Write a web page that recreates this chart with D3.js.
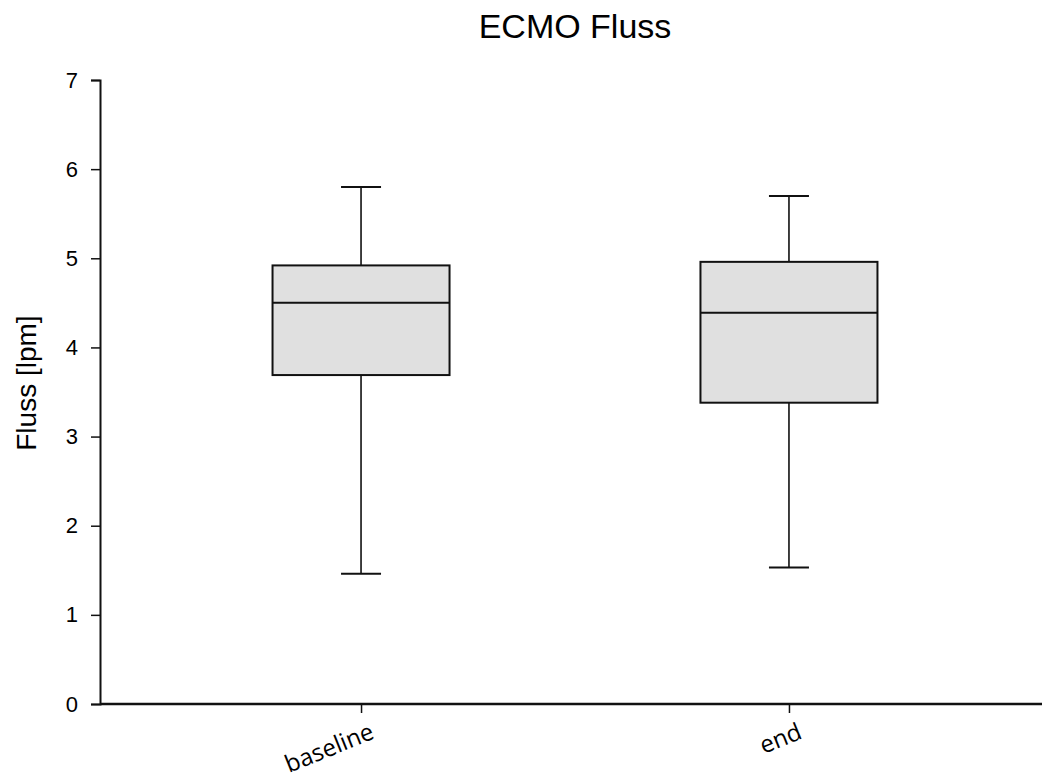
<!DOCTYPE html>
<html>
<head>
<meta charset="utf-8">
<script src="https://cdn.jsdelivr.net/npm/d3@7"></script>
<style>
  body { margin: 0; background: #fff; }
  svg { display: block; }
</style>
</head>
<body>
<svg id="chart"></svg>
<script>
// categories and box statistics
const groups = ['baseline', 'end']
const whiskerLow = [1.46, 1.53]
const q1 = [3.69, 3.38]
const median = [4.50, 4.39]
const q3 = [4.92, 4.96]
const whiskerHigh = [5.80, 5.70]
const yTicks = [0, 1, 2, 3, 4, 5, 6, 7]

const width = 1042, height = 780
const margin = { top: 80, right: 0, bottom: 76, left: 100 }

const data = groups.map((g, i) => ({
  group: g, lo: whiskerLow[i], q1: q1[i], med: median[i], q3: q3[i], hi: whiskerHigh[i]
}))

const svg = d3.select('#chart')
  .attr('width', width)
  .attr('height', height)

const x = d3.scalePoint()
  .domain(groups)
  .range([margin.left, 1050])
  .padding(0.61)

const y = d3.scaleLinear()
  .domain([0, 7])
  .range([height - margin.bottom, margin.top])

// y axis
const yAxis = svg.append('g')
  .attr('transform', 'translate(' + margin.left + ',0)')
  .call(d3.axisLeft(y).tickValues(yTicks).tickFormat(d3.format('d')).tickSizeOuter(0).tickSize(9).tickPadding(13))
yAxis.select('.domain').attr('stroke', '#111').attr('stroke-width', 2)
yAxis.selectAll('.tick line').attr('stroke', '#111').attr('stroke-width', 1.5)
yAxis.selectAll('.tick text')
  .attr('font-family', 'Liberation Sans, Arial, sans-serif')
  .attr('font-size', 22)
  .attr('fill', '#000')

// x axis
const xAxis = svg.append('g')
  .attr('transform', 'translate(0,' + y(0) + ')')
  .call(d3.axisBottom(x).tickSizeOuter(0).tickSize(9))
xAxis.select('.domain').attr('stroke', '#111').attr('stroke-width', 2.5)
  .attr('d', 'M' + margin.left + ',0H1050')
xAxis.selectAll('.tick line').attr('stroke', '#111').attr('stroke-width', 1.5)
xAxis.selectAll('.tick text')
  .attr('font-family', 'Open Sans, sans-serif')
  .attr('font-size', 24)
  .attr('fill', '#000')
  .attr('text-anchor', 'end')
  .attr('y', 0)
  .attr('dy', 0)
  .attr('transform', 'translate(14,34) rotate(-22)')

// boxes
const boxWidth = 177
const boxes = svg.append('g')
  .selectAll('g')
  .data(data)
  .join('g')

boxes.append('line')
  .attr('x1', d => x(d.group)).attr('x2', d => x(d.group))
  .attr('y1', d => y(d.hi)).attr('y2', d => y(d.lo))
  .attr('stroke', '#111').attr('stroke-width', 1.6)

boxes.selectAll('.cap')
  .data(d => [d, d].map((v, k) => ({ g: v.group, val: k ? v.lo : v.hi })))
  .join('line')
  .attr('class', 'cap')
  .attr('x1', d => x(d.g) - 20).attr('x2', d => x(d.g) + 20)
  .attr('y1', d => y(d.val)).attr('y2', d => y(d.val))
  .attr('stroke', '#111').attr('stroke-width', 2)

boxes.append('rect')
  .attr('x', d => x(d.group) - boxWidth / 2)
  .attr('width', boxWidth)
  .attr('y', d => y(d.q3))
  .attr('height', d => y(d.q1) - y(d.q3))
  .attr('fill', '#e0e0e0')
  .attr('stroke', '#111')
  .attr('stroke-width', 2)

boxes.append('line')
  .attr('x1', d => x(d.group) - boxWidth / 2).attr('x2', d => x(d.group) + boxWidth / 2)
  .attr('y1', d => y(d.med)).attr('y2', d => y(d.med))
  .attr('stroke', '#111').attr('stroke-width', 2)

// title
svg.append('text')
  .attr('x', 575)
  .attr('y', 38)
  .attr('text-anchor', 'middle')
  .attr('font-family', 'Liberation Sans, Arial, sans-serif')
  .attr('font-size', 34)
  .text('ECMO Fluss')

// y label
svg.append('text')
  .attr('transform', 'translate(36,' + y(3.6) + ') rotate(-90)')
  .attr('text-anchor', 'middle')
  .attr('font-family', 'Liberation Sans, Arial, sans-serif')
  .attr('font-size', 28)
  .text('Fluss [lpm]')
</script>
</body>
</html>
